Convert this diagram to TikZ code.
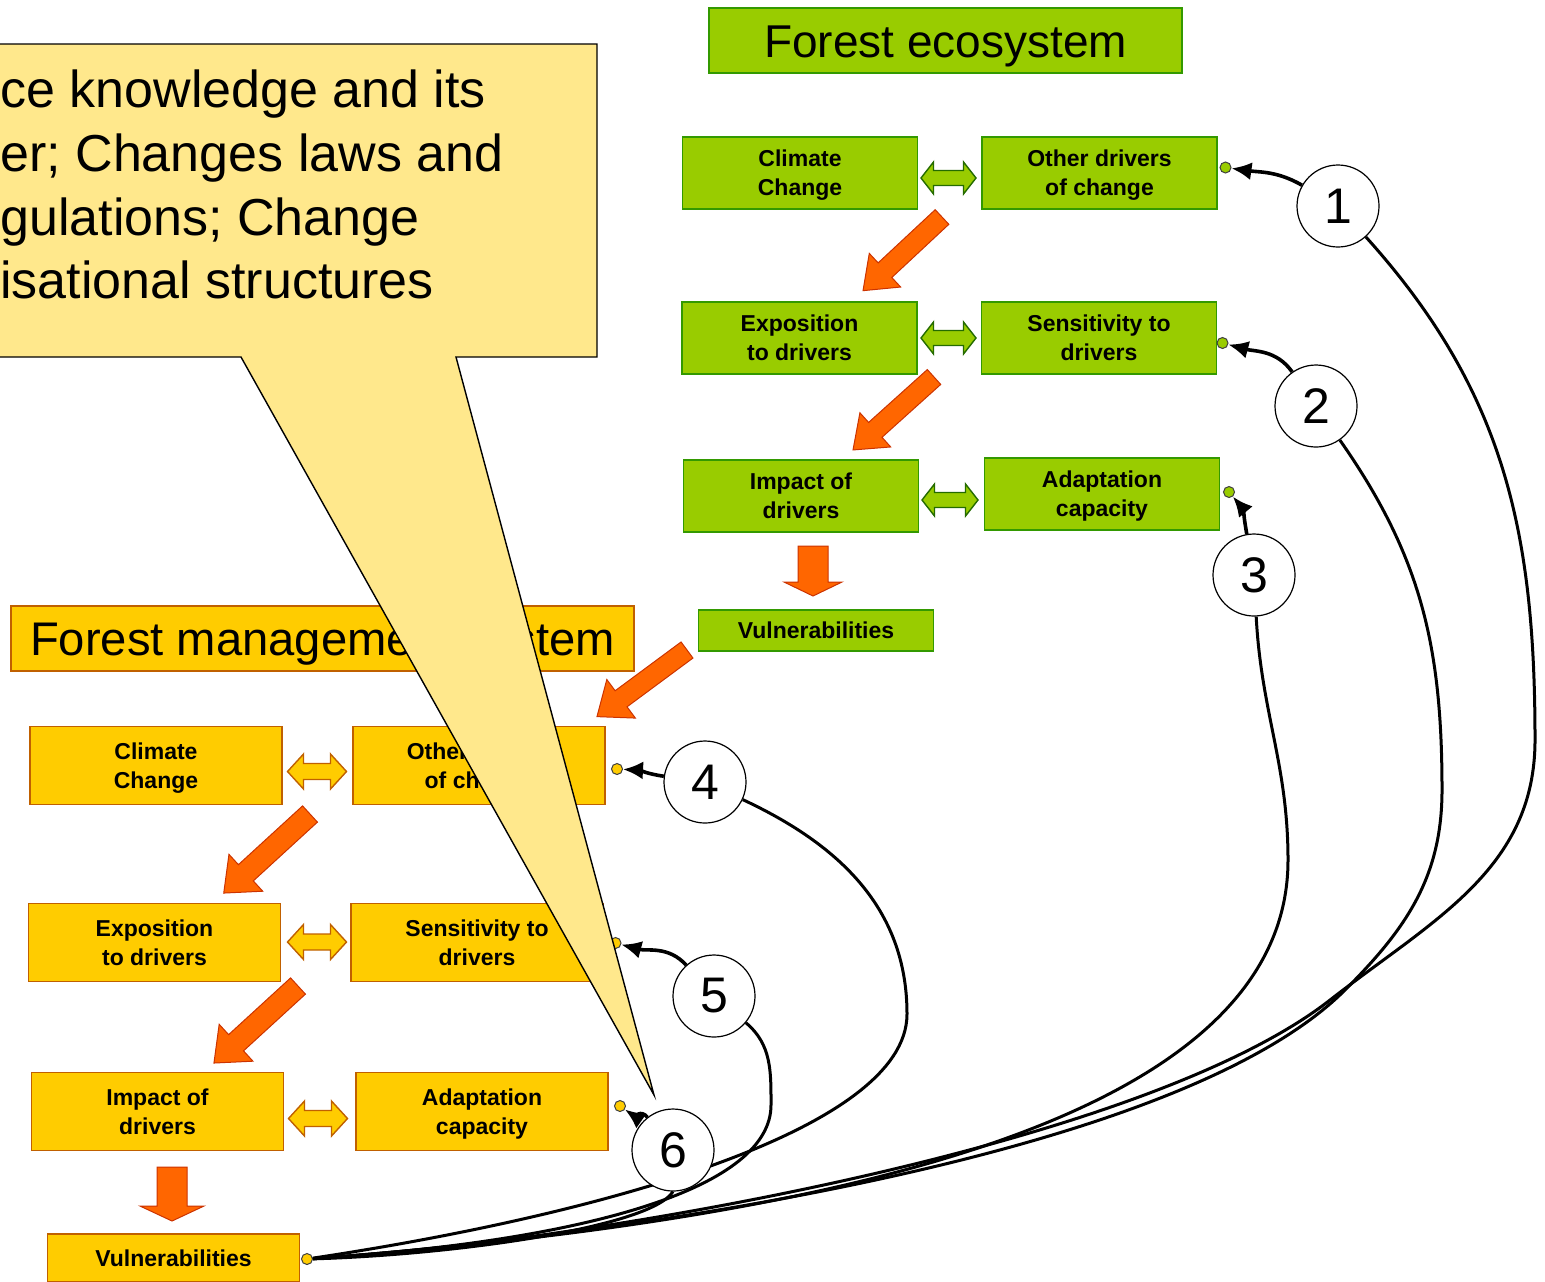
\documentclass[tikz,border=0pt]{standalone}
\usepackage{fontspec}
\setmainfont{Liberation Sans}
\usepackage{tikz}
\usetikzlibrary{arrows.meta}
\pgfdeclarelayer{front}
\pgfsetlayers{main,front}

\definecolor{ecogreen}{HTML}{99CC00}
\definecolor{ecoline}{HTML}{339900}
\definecolor{mgmtyellow}{HTML}{FFCC00}
\definecolor{mgmtline}{HTML}{C06000}
\definecolor{flowred}{HTML}{FF6600}
\definecolor{flowline}{HTML}{CC3300}
\definecolor{notepaper}{HTML}{FFE88C}

% block arrow: style, tail, angle, length, shaft, head, head length (px)
\newcommand{\blockarrow}[7]{%
  \path[#1,shift={#2},rotate=#3] (0,-#5) -- ({#4-#7},-#5) -- ({#4-#7},-#6) -- (#4,0)
    -- ({#4-#7},#6) -- ({#4-#7},#5) -- (0,#5) -- cycle;}
% two headed arrow: style, centre, length, shaft, head, head length (px)
\newcommand{\twoarrow}[6]{%
  \path[#1,shift={#2}] ({-#3/2},0) -- ({-#3/2+#6},#5) -- ({-#3/2+#6},#4) -- ({#3/2-#6},#4)
    -- ({#3/2-#6},#5) -- ({#3/2},0) -- ({#3/2-#6},-#5) -- ({#3/2-#6},-#4)
    -- ({-#3/2+#6},-#4) -- ({-#3/2+#6},-#5) -- cycle;}
\def\calloutshape{(-20,44) -- (597,44) -- (597,357) -- (456,357) -- (654,1095) -- (241,357) -- (-20,357) -- cycle}

\begin{document}
\begin{tikzpicture}[x=0.5pt, y=-0.5pt,
    ecobox/.style={draw=ecoline, line width=0.8pt, fill=ecogreen, align=center, inner sep=0pt,
      font=\fontsize{11.5}{14.5}\selectfont\bfseries, text depth=0pt, minimum width=117.5pt, minimum height=36pt},
    mgmtbox/.style={ecobox, draw=mgmtline, fill=mgmtyellow, minimum width=126pt, minimum height=39pt},
    ecohead/.style={ecobox, font=\fontsize{23}{28}\selectfont, text height=16.5pt,
      minimum width=236.5pt, minimum height=32.5pt},
    mgmthead/.style={mgmtbox, font=\fontsize{23.6}{28}\selectfont, text height=17pt,
      minimum width=311.5pt, minimum height=32.5pt},
    stepmark/.style={circle, draw, fill=white, line width=0.6pt, minimum size=41pt, inner sep=0pt,
      font=\fontsize{25}{30}\selectfont},
    ecoport/.style={circle, draw=black!75, fill=ecogreen, line width=0.5pt, minimum size=5.5pt, inner sep=0pt},
    mgmtport/.style={ecoport, fill=mgmtyellow},
    flowarrow/.style={fill=flowred, draw=flowline, line width=0.5pt},
    ecotwin/.style={fill=ecogreen, draw=ecoline!70!black, line width=0.7pt},
    mgmttwin/.style={fill=mgmtyellow, draw=mgmtline, line width=0.7pt},
    notetext/.style={inner sep=0pt, anchor=base west, font=\fontsize{26}{32}\selectfont},
    feedback/.style={line width=1.8pt, -{Latex[length=10pt,width=9pt]}},
    backline/.style={line width=1.5pt}]

  \useasboundingbox (0,0) rectangle (1545,1281);

  % Forest ecosystem
  \node[ecohead] (ecotitle) at (945.5,40.5) {Forest ecosystem};
  \node[ecobox] (ecoclimate) at (800,173) {Climate\\Change};
  \node[ecobox] (ecoother) at (1099.5,173) {Other drivers\\of change};
  \node[ecobox] (ecoexpo) at (799.5,338) {Exposition\\to drivers};
  \node[ecobox] (ecosens) at (1099,338) {Sensitivity to\\drivers};
  \node[ecobox] (ecoimpact) at (801,496) {Impact of\\drivers};
  \node[ecobox] (ecoadapt) at (1102,494) {Adaptation\\capacity};
  \node[ecobox, minimum height=20.5pt] (ecovuln) at (816,630.5) {Vulnerabilities};

  \twoarrow{ecotwin}{(948.5,178)}{55}{7.5}{16}{12.5}
  \twoarrow{ecotwin}{(948.5,338)}{55}{7.5}{16}{12.5}
  \twoarrow{ecotwin}{(950,500)}{56}{7.5}{16}{12.5}
  \blockarrow{flowarrow}{(942,217)}{-137}{108}{10}{23}{30}
  \blockarrow{flowarrow}{(934,377)}{-138}{109}{10}{23}{30}
  \blockarrow{flowarrow}{(813,546)}{-90}{50}{15}{29}{14}

  % Forest management system
  \node[mgmthead] (mgmttitle) at (322.5,638.5) {Forest management system};
  \node[mgmtbox] (mgmtclimate) at (156,765.5) {Climate\\Change};
  \node[mgmtbox] (mgmtother) at (479,765.5) {Other drivers\\of change};
  \node[mgmtbox] (mgmtexpo) at (154.5,942.5) {Exposition\\to drivers};
  \node[mgmtbox] (mgmtsens) at (477,942.5) {Sensitivity to\\drivers};
  \node[mgmtbox] (mgmtimpact) at (157.5,1111.5) {Impact of\\drivers};
  \node[mgmtbox] (mgmtadapt) at (482,1111.5) {Adaptation\\capacity};
  \node[mgmtbox, minimum height=24pt] (mgmtvuln) at (173.5,1258) {Vulnerabilities};

  \twoarrow{mgmttwin}{(317,771.5)}{59}{8}{17.5}{16}
  \twoarrow{mgmttwin}{(317,942)}{59}{8}{17.5}{16}
  \twoarrow{mgmttwin}{(318,1118.5)}{59}{8}{17.5}{16}
  \blockarrow{flowarrow}{(687,650)}{-143.5}{112}{10}{24}{30}
  \blockarrow{flowarrow}{(310,814)}{-137.5}{117}{11}{25}{30}
  \blockarrow{flowarrow}{(298,986)}{-137.5}{114}{11}{25}{30}
  \blockarrow{flowarrow}{(172,1167)}{-90}{54}{15}{32}{15}

  % Ports
  \node[ecoport] (ecootherin) at (1225.5,167.5) {};
  \node[ecoport] (ecosensin) at (1222.5,343) {};
  \node[ecoport] (ecoadaptin) at (1229,492) {};
  \node[mgmtport] (mgmtotherin) at (617,769) {};
  \node[mgmtport] (mgmtsensin) at (615.5,943) {};
  \node[mgmtport] (mgmtadaptin) at (620,1106) {};
  \node[mgmtport] (mgmtvulnout) at (307,1259) {};

  % Callout
  \draw[fill=notepaper, line width=0.7pt] \calloutshape;
  \node[notetext] (note1) at (0,107) {ce knowledge and its};
  \node[notetext] (note2) at (0,171) {er; Changes laws and};
  \node[notetext] (note3) at (0,235) {gulations; Change};
  \node[notetext] (note4) at (0,298) {isational structures};

  % Steps
  \begin{pgfonlayer}{front}
    \node[stepmark] (s1) at (1338,206) {1};
    \node[stepmark] (s2) at (1316,406) {2};
    \node[stepmark] (s3) at (1254,575) {3};
    \node[stepmark] (s4) at (705,782) {4};
    \node[stepmark] (s5) at (714,996) {5};
    \node[stepmark] (s6) at (673,1150) {6};
  \end{pgfonlayer}

  \coordinate (w1) at (1535,740);
  \coordinate (m1) at (1330,1000);
  \coordinate (w2) at (1442,790);
  \coordinate (m2) at (1345,990);
  \coordinate (w3) at (1288,860);
  \coordinate (w4) at (907,1014);
  \coordinate (w5) at (771,1105);

  \draw[feedback] (s1) to[out=150,in=-8] (ecootherin);
  \draw[feedback] (s2) to[out=125,in=-15] (ecosensin);
  \draw[feedback] (s3) to[out=100,in=-50] (ecoadaptin);
  \draw[feedback] (s4) to[out=172,in=-3] (mgmtotherin);
  \draw[feedback] (s5) to[out=132,in=-15] (mgmtsensin);
  \draw[feedback] (s6) to[out=128,in=-35] (mgmtadaptin);

  \draw[backline] (s1) to[out=-48,in=90] (w1) to[out=-90,in=38] (m1)
    to[out=-142,in=3,looseness=0.6] (mgmtvulnout);
  \draw[backline] (s2) to[out=-55,in=90] (w2) to[out=-90,in=45] (m2)
    to[out=-135,in=4,looseness=0.6] (mgmtvulnout);
  \draw[backline] (s3) to[out=-87,in=90] (w3) .. controls (1288,1100) and (900,1215) .. (mgmtvulnout);
  \draw[backline] (s4) to[out=-25,in=90] (w4) .. controls (907,1130) and (600,1215) .. (mgmtvulnout);
  \draw[backline] (s5) to[out=-40,in=90] (w5) .. controls (771,1185) and (600,1240) .. (mgmtvulnout);
  \draw[backline] (s6.south) .. controls (650,1228) and (450,1255) .. (mgmtvulnout);

\end{tikzpicture}
\end{document}
